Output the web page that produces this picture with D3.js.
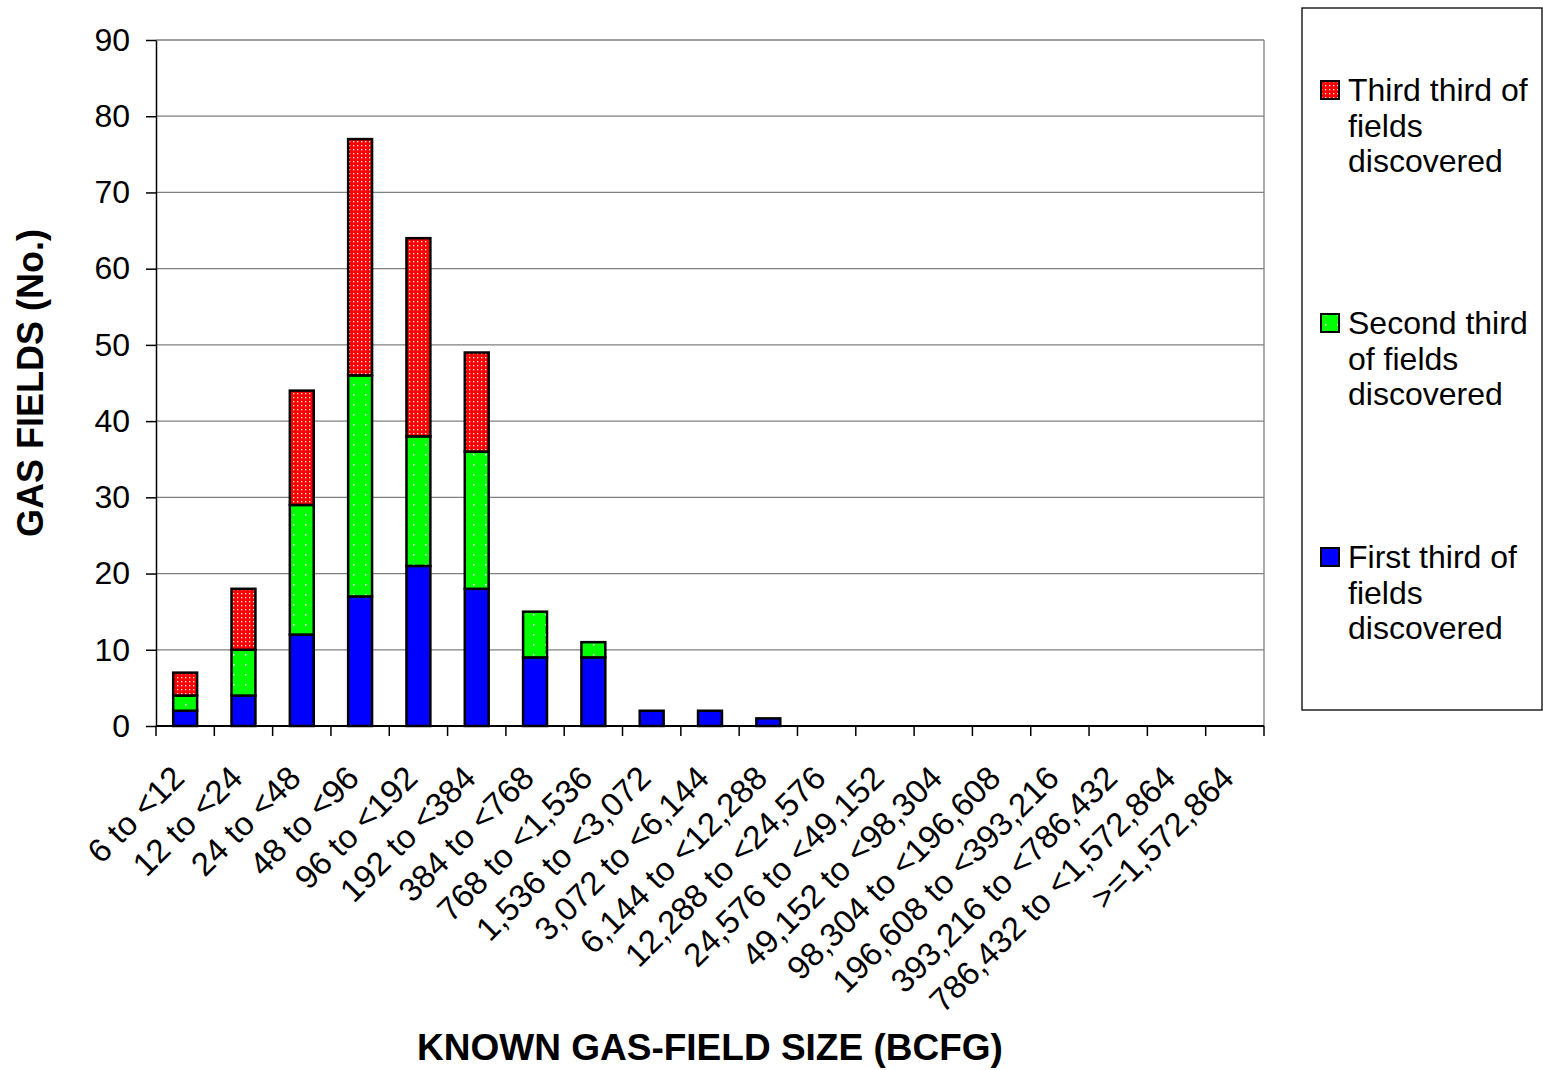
<!DOCTYPE html>
<html>
<head>
<meta charset="utf-8">
<script src="https://cdn.jsdelivr.net/npm/d3@7"></script>
<style>
  body { margin: 0; background: #fff; }
  text { font-family: Arial, "Liberation Sans", sans-serif; }
</style>
</head>
<body>
<div id="chart"></div>
<script>
// field size classes (BCFG)
const sizeClasses = ["6 to <12", "12 to <24", "24 to <48", "48 to <96", "96 to <192", "192 to <384",
  "384 to <768", "768 to <1,536", "1,536 to <3,072", "3,072 to <6,144", "6,144 to <12,288",
  "12,288 to <24,576", "24,576 to <49,152", "49,152 to <98,304", "98,304 to <196,608",
  "196,608 to <393,216", "393,216 to <786,432", "786,432 to <1,572,864", ">=1,572,864"];

// number of fields per third of discovery
const firstThird  = [2, 4, 12, 17, 21, 18, 9, 9, 2, 2, 1, 0, 0, 0, 0, 0, 0, 0, 0];
const secondThird = [2, 6, 17, 29, 17, 18, 6, 2, 0, 0, 0, 0, 0, 0, 0, 0, 0, 0, 0];
const thirdThird  = [3, 8, 15, 31, 26, 13, 0, 0, 0, 0, 0, 0, 0, 0, 0, 0, 0, 0, 0];

const yTicks = [0, 10, 20, 30, 40, 50, 60, 70, 80, 90];

const W = 1543, H = 1070;
const margin = { top: 40, left: 156, right: 279, bottom: 344 };
const width = W - margin.left - margin.right,
  height = H - margin.top - margin.bottom;

const svg = d3.select("#chart").append("svg")
  .attr("width", W)
  .attr("height", H);

// patterns for the dotted fills
const defs = svg.append("defs");
const red = defs.append("pattern")
  .attr("id", "redDots")
  .attr("patternUnits", "userSpaceOnUse")
  .attr("width", 4).attr("height", 4);
red.append("rect").attr("width", 4).attr("height", 4).attr("fill", "#ff0000");
red.append("rect").attr("x", 1).attr("y", 1).attr("width", 1.3).attr("height", 1.3).attr("fill", "#ffffff");

const green = defs.append("pattern")
  .attr("id", "greenDots")
  .attr("patternUnits", "userSpaceOnUse")
  .attr("width", 12).attr("height", 10);
green.append("rect").attr("width", 12).attr("height", 10).attr("fill", "#00ff00");
green.append("rect").attr("x", 5).attr("y", 4).attr("width", 1.5).attr("height", 1.5).attr("fill", "#ffffff");

const g = svg.append("g")
  .attr("transform", "translate(" + margin.left + "," + margin.top + ")");

const x = d3.scaleBand()
  .domain(sizeClasses)
  .range([0, width])
  .paddingInner(0.59)
  .paddingOuter(0.295);

const y = d3.scaleLinear()
  .domain([0, 90])
  .range([height, 0]);

// gridlines
g.append("g")
  .selectAll("line")
  .data(yTicks.filter(d => d > 0))
  .enter()
  .append("line")
  .attr("x1", 0).attr("x2", width)
  .attr("y1", d => y(d)).attr("y2", d => y(d))
  .attr("stroke", "#808080")
  .attr("stroke-width", 1.3);

// right border
g.append("line")
  .attr("x1", width).attr("x2", width)
  .attr("y1", 0).attr("y2", height)
  .attr("stroke", "#808080")
  .attr("stroke-width", 1.3);

// stacked bars
const rows = sizeClasses.map((c, i) => ({ cls: c, first: firstThird[i], second: secondThird[i], third: thirdThird[i] }));
const stack = d3.stack().keys(["first", "second", "third"])(rows);
const fills = { first: "#0000ff", second: "url(#greenDots)", third: "url(#redDots)" };

g.append("g")
  .selectAll("g")
  .data(stack)
  .enter()
  .append("g")
  .attr("fill", d => fills[d.key])
  .selectAll("rect")
  .data(d => d.filter(p => p[1] - p[0] > 0))
  .enter()
  .append("rect")
  .attr("x", d => x(d.data.cls))
  .attr("width", x.bandwidth())
  .attr("y", d => y(d[1]))
  .attr("height", d => y(d[0]) - y(d[1]))
  .attr("stroke", "#000")
  .attr("stroke-width", 2.5);

// y axis
const yAxis = g.append("g")
  .call(d3.axisLeft(y).tickValues(yTicks).tickSize(10).tickSizeOuter(0).tickPadding(16));
yAxis.select(".domain").attr("stroke", "#000").attr("stroke-width", 1.5);
yAxis.selectAll(".tick line").attr("stroke", "#000").attr("stroke-width", 1.5);
yAxis.selectAll(".tick text")
  .attr("font-size", "32px")
  .attr("font-family", "Arial, 'Liberation Sans', sans-serif")
  .attr("fill", "#000");

// x axis: ticks at category boundaries
const step = x.step();
const boundaries = d3.range(sizeClasses.length + 1);
const xg = g.append("g").attr("transform", "translate(0," + height + ")");
xg.append("line")
  .attr("x1", 0).attr("x2", width)
  .attr("stroke", "#000").attr("stroke-width", 2);
xg.selectAll(".bt")
  .data(boundaries)
  .enter()
  .append("line")
  .attr("x1", d => d * step).attr("x2", d => d * step)
  .attr("y1", 0).attr("y2", 10)
  .attr("stroke", "#000").attr("stroke-width", 1.5);

xg.selectAll(".lbl")
  .data(sizeClasses)
  .enter()
  .append("text")
  .attr("transform", d => "translate(" + (x(d) + x.bandwidth() / 2 + 1) + ",54) rotate(-45)")
  .attr("text-anchor", "end")
  .attr("font-size", "33px")
  .attr("fill", "#000")
  .text(d => d);

// axis titles
svg.append("text")
  .attr("transform", "translate(43," + (margin.top + height / 2) + ") rotate(-90)")
  .attr("text-anchor", "middle")
  .attr("font-size", "36px")
  .attr("font-weight", "bold")
  .text("GAS FIELDS (No.)");

svg.append("text")
  .attr("x", 710)
  .attr("y", 1060)
  .attr("text-anchor", "middle")
  .attr("font-size", "37px")
  .attr("font-weight", "bold")
  .text("KNOWN GAS-FIELD SIZE (BCFG)");

// legend
const legend = svg.append("g");
legend.append("rect")
  .attr("x", 1302).attr("y", 8)
  .attr("width", 240).attr("height", 702)
  .attr("fill", "#fff")
  .attr("stroke", "#000")
  .attr("stroke-width", 1.3);

const legendItems = [
  { fill: "url(#redDots)", lines: ["Third third of", "fields", "discovered"], y: 90 },
  { fill: "url(#greenDots)", lines: ["Second third", "of fields", "discovered"], y: 323 },
  { fill: "#0000ff", lines: ["First third of", "fields", "discovered"], y: 557 }
];

legendItems.forEach(item => {
  legend.append("rect")
    .attr("x", 1321).attr("y", item.y - 9)
    .attr("width", 18).attr("height", 18)
    .attr("fill", item.fill)
    .attr("stroke", "#000")
    .attr("stroke-width", 2);
  const t = legend.append("text")
    .attr("x", 1348)
    .attr("y", item.y + 11)
    .attr("font-size", "32px")
    .attr("fill", "#000");
  item.lines.forEach((l, i) => {
    t.append("tspan").attr("x", 1348).attr("dy", i === 0 ? 0 : 35.5).text(l);
  });
});
</script>
</body>
</html>
